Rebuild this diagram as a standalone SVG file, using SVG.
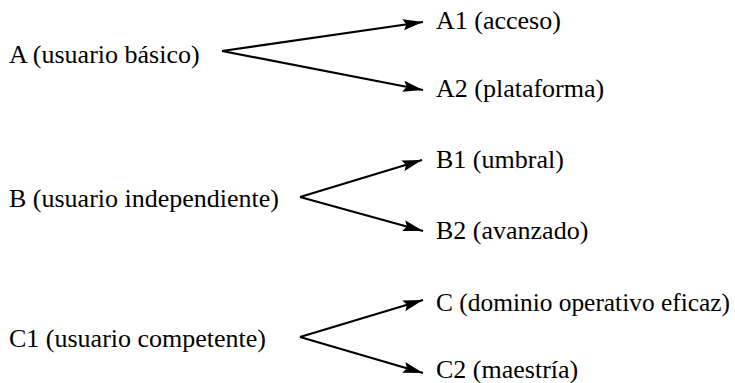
<svg xmlns="http://www.w3.org/2000/svg" width="735" height="383" viewBox="0 0 735 383">
<style>
.t{font-family:'Liberation Serif','Times New Roman','DejaVu Serif',serif;font-size:26px;fill:#000}
.c{stroke:#000;stroke-width:2.2;fill:none}
</style>
<defs>
<marker id="ah" markerUnits="userSpaceOnUse" markerWidth="20" markerHeight="12" refX="18" refY="5" orient="auto" viewBox="0 0 18 10">
<path d="M0,0 L18,5 L0,10 L3,5 z" fill="#000"/>
</marker>
</defs>
<g id="connectors">
<path class="c" d="M222,51 L423,22" marker-end="url(#ah)"/>
<path class="c" d="M222,51 L423,90" marker-end="url(#ah)"/>
<path class="c" d="M300,197 L422,160" marker-end="url(#ah)"/>
<path class="c" d="M300,197 L423,231" marker-end="url(#ah)"/>
<path class="c" d="M300,337 L423,300" marker-end="url(#ah)"/>
<path class="c" d="M300,337 L423,373" marker-end="url(#ah)"/>
</g>
<g id="nA"><text class="t" x="9" y="63">A (usuario básico)</text></g>
<g id="nA1"><text class="t" x="436" y="29">A1 (acceso)</text></g>
<g id="nA2"><text class="t" x="436" y="97">A2 (plataforma)</text></g>
<g id="nB"><text class="t" x="9" y="207">B (usuario independiente)</text></g>
<g id="nB1"><text class="t" x="436" y="168">B1 (umbral)</text></g>
<g id="nB2"><text class="t" x="436" y="239">B2 (avanzado)</text></g>
<g id="nC1"><text class="t" x="9" y="347">C1 (usuario competente)</text></g>
<g id="nC"><text class="t" x="436" y="311" style="font-size:25.4px">C (dominio operativo eficaz)</text></g>
<g id="nC2"><text class="t" x="436" y="378">C2 (maestría)</text></g>
</svg>
